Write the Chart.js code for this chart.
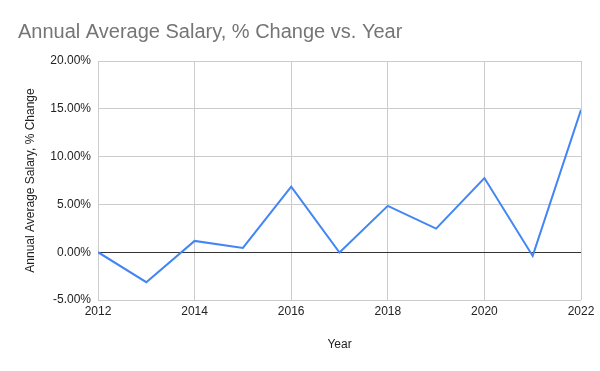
<!DOCTYPE html>
<html>
<head>
<meta charset="utf-8">
<script src="https://cdn.jsdelivr.net/npm/chart.js@4"></script>
<style>
  html, body { margin: 0; padding: 0; background: #fff; }
  #wrap { width: 600px; height: 371px; }
</style>
</head>
<body>
<div id="wrap"><canvas id="myChart" width="600" height="371"></canvas></div>
<script>
// data
const years = [2012, 2013, 2014, 2015, 2016, 2017, 2018, 2019, 2020, 2021, 2022];
const pctChange = [0, -3.14, 1.18, 0.45, 6.85, -0.04, 4.85, 2.47, 7.76, -0.39, 14.9];

const chartTitle = 'Annual Average Salary, % Change vs. Year';
const xTitle = 'Year';
const yTitle = 'Annual Average Salary, % Change';

const ctx = document.getElementById('myChart');

new Chart(ctx, {
    type: 'line',
    data: {
        datasets: [{
            label: yTitle,
            data: years.map((y, i) => ({x: y, y: pctChange[i]})),
            borderColor: '#4285f4',
            borderWidth: 2,
            pointRadius: 0,
            fill: false,
            tension: 0,
        }],
    },
    options: {
        responsive: false,
        animation: false,
        layout: {
            padding: {left: 18, right: 19, top: 0, bottom: 0},
        },
        plugins: {
            legend: {display: false},
            tooltip: {enabled: false},
            title: {
                display: true,
                text: chartTitle,
                align: 'start',
                color: '#757575',
                font: {family: 'Arial, "Liberation Sans", sans-serif', size: 20, weight: 'normal'},
                padding: {top: 20, bottom: 17},
            },
        },
        scales: {
            x: {
                type: 'linear',
                min: 2012,
                max: 2022,
                ticks: {
                    stepSize: 2,
                    color: '#222',
                    font: {family: 'Arial, "Liberation Sans", sans-serif', size: 12},
                    padding: 4,
                    maxRotation: 0,
                    callback: (v) => String(v),
                },
                grid: {color: '#cccccc', drawTicks: false},
                border: {display: false},
                title: {
                    display: true,
                    text: xTitle,
                    color: '#222',
                    font: {family: 'Arial, "Liberation Sans", sans-serif', size: 12},
                    padding: {top: 0, bottom: 19},
                },
                afterFit: function(scale) {
                    scale.height = 71;
                },
            },
            y: {
                min: -5,
                max: 20,
                ticks: {
                    stepSize: 5,
                    color: '#222',
                    font: {family: 'Arial, "Liberation Sans", sans-serif', size: 12},
                    padding: 7,
                    callback: (v) => v.toFixed(2) + '%',
                },
                grid: {
                    color: (c) => (c.tick && c.tick.value === 0 ? '#333333' : '#cccccc'),
                    drawTicks: false,
                },
                border: {display: false},
                title: {
                    display: true,
                    text: yTitle,
                    color: '#222',
                    font: {family: 'Arial, "Liberation Sans", sans-serif', size: 12},
                    padding: {top: 5, bottom: 0},
                },
                afterFit: function(scale) {
                    scale.width = 80;
                },
            },
        },
    },
});
</script>
</body>
</html>
